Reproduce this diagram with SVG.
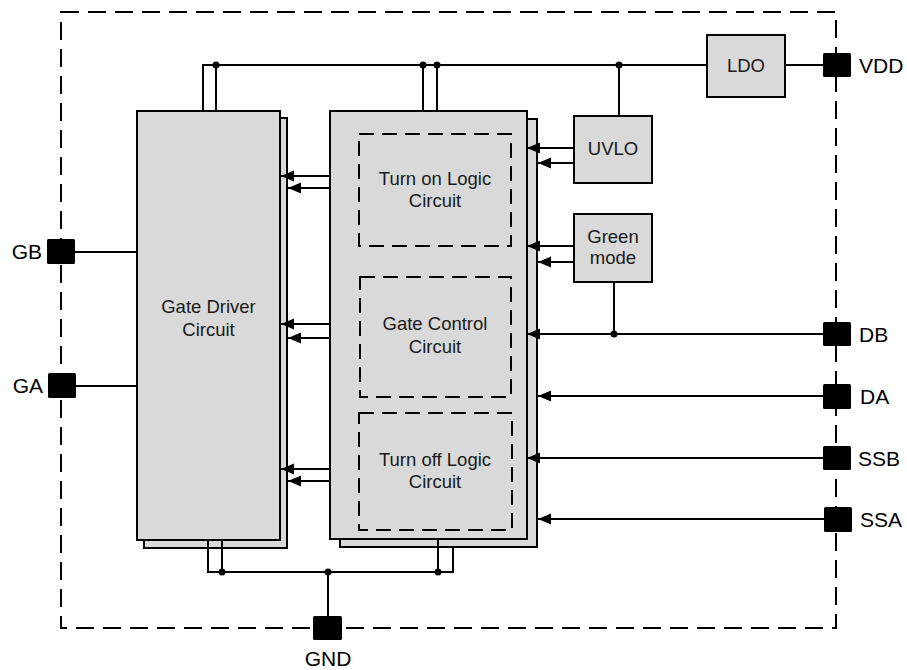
<svg xmlns="http://www.w3.org/2000/svg" width="907" height="670" viewBox="0 0 907 670">
<style>
.box{fill:#d9d9d9;stroke:#000;stroke-width:2}
.dash{fill:none;stroke:#000;stroke-width:2;stroke-dasharray:15 8}
.border{fill:none;stroke:#000;stroke-width:2;stroke-dasharray:18 9}
.w{fill:none;stroke:#000;stroke-width:2}
.a{fill:none;stroke:#000;stroke-width:2;marker-end:url(#arr)}
.pad{fill:#000}
.t{font-family:"Liberation Sans",Arial,sans-serif;font-size:18.5px;fill:#1a1a1a;text-anchor:middle}
.p{font-family:"Liberation Sans",Arial,sans-serif;font-size:21px;fill:#000}
</style>
<defs>
<marker id="arr" markerUnits="userSpaceOnUse" markerWidth="13" markerHeight="12" refX="13" refY="6" orient="auto">
<path d="M0,0.5 L13,6 L0,11.5 z" fill="#000"/>
</marker>
</defs>
<rect class="border" x="61" y="12" width="775" height="616"/>
<g id="gate-driver">
<rect class="box" x="144" y="118" width="143" height="430"/>
<rect class="box" x="137" y="111" width="143" height="429"/>
<text class="t" x="208.5" y="313">Gate Driver</text>
<text class="t" x="208.5" y="336">Circuit</text>
</g>
<g id="logic">
<rect class="box" x="340" y="119" width="197" height="428"/>
<rect class="box" x="330" y="111" width="197" height="428"/>
</g>
<g id="turn-on">
<rect class="dash" x="359" y="134" width="152" height="112"/>
<text class="t" x="435" y="185">Turn on Logic</text>
<text class="t" x="435" y="207">Circuit</text>
</g>
<g id="gate-control">
<rect class="dash" x="360" y="277" width="151" height="120"/>
<text class="t" x="435" y="330">Gate Control</text>
<text class="t" x="435" y="353">Circuit</text>
</g>
<g id="turn-off">
<rect class="dash" x="359" y="413" width="153" height="117"/>
<text class="t" x="435" y="466">Turn off Logic</text>
<text class="t" x="435" y="488">Circuit</text>
</g>
<g id="uvlo">
<rect class="box" x="574" y="116" width="78" height="67"/>
<text class="t" x="613" y="155">UVLO</text>
</g>
<g id="green">
<rect class="box" x="574" y="214" width="78" height="68"/>
<text class="t" x="613" y="243">Green</text>
<text class="t" x="613" y="264">mode</text>
</g>
<g id="ldo">
<rect class="box" x="707" y="35" width="78" height="62"/>
<text class="t" x="746" y="72">LDO</text>
</g>
<g id="connectors">
<polyline class="w" points="203,111 203,65 707,65"/>
<line class="w" x1="216" y1="65" x2="216" y2="111"/>
<line class="w" x1="423" y1="65" x2="423" y2="111"/>
<line class="w" x1="437" y1="65" x2="437" y2="111"/>
<line class="w" x1="619" y1="65" x2="619" y2="116"/>
<line class="w" x1="785" y1="65" x2="830" y2="65"/>
<polyline class="w" points="208,540 208,572 453,572 453,547"/>
<line class="w" x1="222" y1="540" x2="222" y2="572"/>
<line class="w" x1="438" y1="539" x2="438" y2="572"/>
<line class="w" x1="328" y1="572" x2="328" y2="620"/>
<line class="w" x1="70" y1="252" x2="137" y2="252"/>
<line class="w" x1="70" y1="386" x2="137" y2="386"/>
<line class="w" x1="614" y1="282" x2="614" y2="334"/>
<line class="a" x1="574" y1="148" x2="527" y2="148"/>
<line class="a" x1="574" y1="163" x2="538" y2="163"/>
<line class="a" x1="574" y1="246" x2="527" y2="246"/>
<line class="a" x1="574" y1="262" x2="538" y2="262"/>
<line class="a" x1="828" y1="334" x2="527" y2="334"/>
<line class="a" x1="828" y1="396" x2="538" y2="396"/>
<line class="a" x1="828" y1="458" x2="527" y2="458"/>
<line class="a" x1="828" y1="519" x2="538" y2="519"/>
<line class="a" x1="330" y1="176" x2="281" y2="176"/>
<line class="a" x1="330" y1="188" x2="288" y2="188"/>
<line class="a" x1="330" y1="324" x2="281" y2="324"/>
<line class="a" x1="330" y1="338" x2="288" y2="338"/>
<line class="a" x1="330" y1="469" x2="281" y2="469"/>
<line class="a" x1="330" y1="481" x2="288" y2="481"/>
<circle cx="216" cy="65" r="3.5"/>
<circle cx="423" cy="65" r="3.5"/>
<circle cx="437" cy="65" r="3.5"/>
<circle cx="619" cy="65" r="3.5"/>
<circle cx="222" cy="572" r="3.5"/>
<circle cx="328" cy="572" r="3.5"/>
<circle cx="438" cy="572" r="3.5"/>
<circle cx="614" cy="334" r="3.5"/>
</g>
<g id="pin-vdd"><rect class="pad" x="823" y="53" width="28" height="24" rx="1.5"/><text class="p" x="859" y="73">VDD</text></g>
<g id="pin-db"><rect class="pad" x="823" y="322" width="28" height="24" rx="1.5"/><text class="p" x="859" y="342">DB</text></g>
<g id="pin-da"><rect class="pad" x="823" y="384" width="28" height="25" rx="1.5"/><text class="p" x="860" y="404">DA</text></g>
<g id="pin-ssb"><rect class="pad" x="823" y="446" width="28" height="24" rx="1.5"/><text class="p" x="858" y="466">SSB</text></g>
<g id="pin-ssa"><rect class="pad" x="824" y="507" width="28" height="25" rx="1.5"/><text class="p" x="860" y="527">SSA</text></g>
<g id="pin-gb"><rect class="pad" x="47" y="239" width="28" height="25" rx="1.5"/><text class="p" x="42" y="259" text-anchor="end">GB</text></g>
<g id="pin-ga"><rect class="pad" x="48" y="373" width="28" height="25" rx="1.5"/><text class="p" x="43" y="393" text-anchor="end">GA</text></g>
<g id="pin-gnd"><rect class="pad" x="313" y="616" width="29" height="24" rx="1.5"/><text class="p" x="328" y="666" text-anchor="middle">GND</text></g>
</svg>
